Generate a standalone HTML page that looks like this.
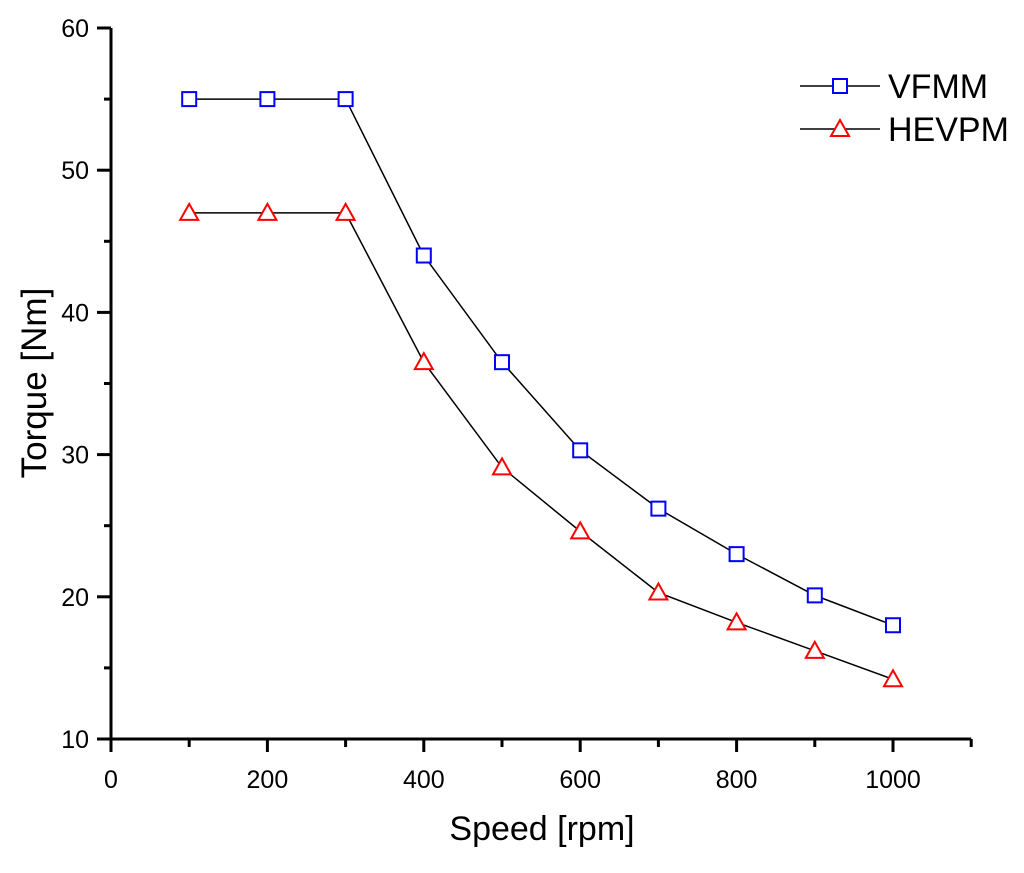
<!DOCTYPE html>
<html><head><meta charset="utf-8"><style>
body{margin:0;background:#fff}
svg text{font-family:"Liberation Sans",Arial,sans-serif;fill:#000}
</style></head><body>
<svg id="chart" width="1024" height="868" viewBox="0 0 1024 868" xmlns="http://www.w3.org/2000/svg">
<g id="axes"></g>
<g id="series"></g>
<text x="542" y="840" font-size="34" text-anchor="middle">Speed [rpm]</text>
<text transform="translate(46,383) rotate(-90)" font-size="35" text-anchor="middle">Torque [Nm]</text>
<g>
<g>
<line x1="800" y1="86" x2="880" y2="86" stroke="#000" stroke-width="1.5"/>
<rect x="833" y="79" width="14" height="14" fill="#fff" stroke="#00f" stroke-width="2"/>
<text x="888" y="98" font-size="34">VFMM</text></g>
<g>
<line x1="800" y1="129" x2="880" y2="129" stroke="#000" stroke-width="1.5"/>
<polygon points="840,120 849,136 831,136" fill="#fff" stroke="#f00" stroke-width="2"/>
<text x="888" y="141" font-size="34">HEVPM</text></g>
</g>
</svg>
<script>
const speeds=[100,200,300,400,500,600,700,800,900,1000];
const vfmm=[55,55,55,44,36.5,30.3,26.2,23,20.1,18];
const hevpm=[47,47,47,36.5,29.1,24.6,20.3,18.2,16.2,14.2];
const xTicks=[0,200,400,600,800,1000];
const yTicks=[10,20,30,40,50,60];
const NS="http://www.w3.org/2000/svg";
const X=v=>111+v*0.782;
const Y=v=>739-(v-10)*14.22;
function mk(tag,at,parent){const e=document.createElementNS(NS,tag);for(const k in at)e.setAttribute(k,at[k]);parent.appendChild(e);return e;}
const ax=document.getElementById('axes');
const xl=mk('line',{x1:111,y1:739,x2:X(1100),y2:739,stroke:'#000','stroke-width':3},ax);


const yl=mk('line',{x1:111,y1:Y(60),x2:111,y2:739,stroke:'#000','stroke-width':3},ax);


for(let v=0;v<=1100;v+=100){const maj=v%200===0;mk('line',{x1:X(v),y1:739,x2:X(v),y2:739+(maj?13:8),stroke:'#000','stroke-width':3},ax);}
for(let v=10;v<=60;v+=5){const maj=v%10===0;mk('line',{x1:111,y1:Y(v),x2:111-(maj?14:7),y2:Y(v),stroke:'#000','stroke-width':3},ax);}
xTicks.forEach(v=>{const t=mk('text',{x:X(v),y:788,'font-size':25,'text-anchor':'middle'},ax);t.textContent=v;

});
yTicks.forEach(v=>{const t=mk('text',{x:89,y:Y(v)+9,'font-size':25,'text-anchor':'end'},ax);t.textContent=v;

});
const sg=document.getElementById('series');
function series(vals,name,marker){
  const g=mk('g',{},sg);
  
  
  mk('polyline',{points:speeds.map((s,i)=>X(s)+','+Y(vals[i])).join(' '),fill:'none',stroke:'#000','stroke-width':1.5},g);
  speeds.forEach((s,i)=>{const x=X(s),y=Y(vals[i]);let m;
    if(marker==='sq')m=mk('rect',{x:x-7,y:y-7,width:14,height:14,fill:'#fff',stroke:'#00f','stroke-width':2},g);
    else m=mk('polygon',{points:`${x},${y-9} ${x+9},${y+7} ${x-9},${y+7}`,fill:'#fff',stroke:'#f00','stroke-width':2},g);
    
    });
}
series(vfmm,'vfmm','sq');
series(hevpm,'hevpm','tri');
</script>
</body></html>
